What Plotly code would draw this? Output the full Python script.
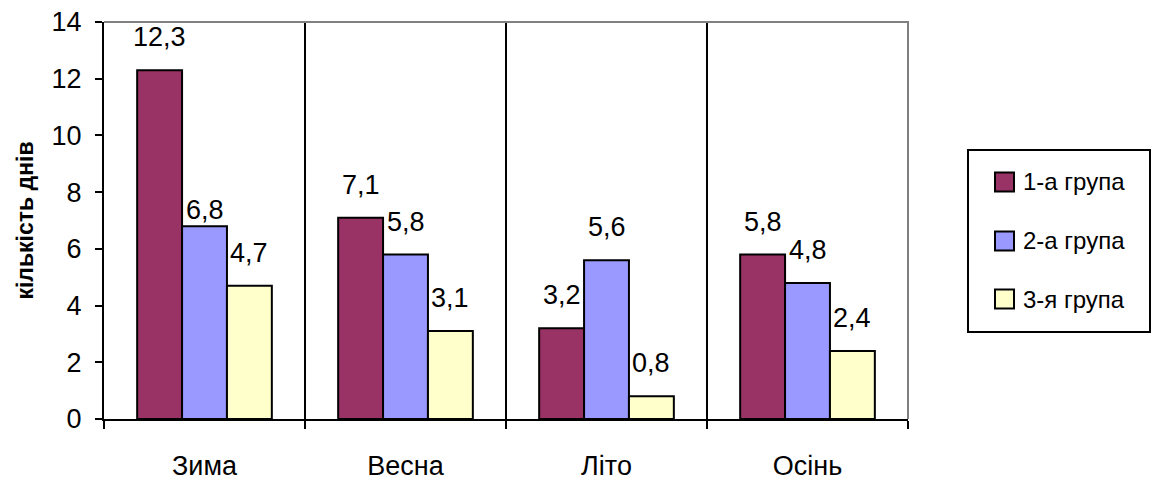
import plotly.graph_objects as go

# Seasons on the category axis
seasons = ["Зима", "Весна", "Літо", "Осінь"]

# Mean number of days per season for each group
group_names = ["1-а група", "2-а група", "3-я група"]
group1 = [12.3, 7.1, 3.2, 5.8]
group2 = [6.8, 5.8, 5.6, 4.8]
group3 = [4.7, 3.1, 0.8, 2.4]

y_ticks = [0, 2, 4, 6, 8, 10, 12, 14]

series = [group1, group2, group3]
colors = ["#993366", "#9999FF", "#FFFFCC"]

FONT = "Liberation Sans Narrow, Arial Narrow, Liberation Sans, Arial, sans-serif"

W, H = 1152, 481
L, R, T, B = 104, 244, 22, 62
plot_w = W - L - R
plot_h = H - T - B
BARGAP = 0.33


def fmt(v):
    return f"{v:.1f}".replace(".", ",")


def paper_x(px):
    return (px - L) / plot_w


def paper_y(py):
    return (H - B - py) / plot_h


fig = go.Figure()
for name, vals, col in zip(group_names, series, colors):
    fig.add_trace(go.Bar(
        x=seasons, y=vals, name=name,
        marker=dict(color=col, line=dict(color="black", width=2)),
        showlegend=False,
    ))

# value labels above each bar
bar_px = plot_w / len(seasons) * (1 - BARGAP) / len(series)
label_lift = {(1, 0): -17}  # the 6,8 label sits close to its bar
annotations = []
for i, vals in enumerate(series):
    for j, v in enumerate(vals):
        annotations.append(dict(
            x=seasons[j], y=v, xref="x", yref="y",
            text=fmt(v), showarrow=False,
            xshift=(i - (len(series) - 1) / 2) * bar_px,
            yanchor="bottom", yshift=16 + label_lift.get((i, j), 0),
            font=dict(family=FONT, size=27, color="black"),
        ))

# legend drawn as boxes and text to the right of the plot
shapes = [
    # grey frame on top and right of the plot area
    dict(type="path", xref="paper", yref="paper",
         path="M 0,1 L 1,1 L 1,0", line=dict(color="#808080", width=2)),
    dict(type="rect", xref="paper", yref="paper",
         x0=paper_x(968), x1=paper_x(1150), y0=paper_y(332), y1=paper_y(150),
         line=dict(color="black", width=2), fillcolor="white"),
]
legend_rows = [182, 241, 299]
for name, col, cy in zip(group_names, colors, legend_rows):
    shapes.append(dict(
        type="rect", xref="paper", yref="paper",
        x0=paper_x(995), x1=paper_x(1014),
        y0=paper_y(cy + 9.5), y1=paper_y(cy - 9.5),
        line=dict(color="black", width=2), fillcolor=col,
    ))
    annotations.append(dict(
        x=paper_x(1021), y=paper_y(cy), xref="paper", yref="paper",
        text=name, showarrow=False, xanchor="left", yanchor="middle",
        font=dict(family=FONT, size=24, color="black"),
    ))

fig.update_layout(
    width=W, height=H,
    margin=dict(l=L, r=R, t=T, b=B, pad=0, autoexpand=False),
    paper_bgcolor="white", plot_bgcolor="white",
    barmode="group", bargap=BARGAP, bargroupgap=0,
    font=dict(family=FONT, color="black"),
    shapes=shapes, annotations=annotations,
)
fig.update_xaxes(
    type="category", tickson="boundaries", automargin=False,
    ticks="outside", ticklen=8, tickwidth=2, tickcolor="black",
    showline=True, linecolor="black", linewidth=2,
    showgrid=True, gridcolor="black", gridwidth=2,
    tickfont=dict(family=FONT, size=27, color="black"),
    ticklabelstandoff=22,
)
fig.update_yaxes(
    range=[0, 14], tickvals=y_ticks, ticktext=[str(t) for t in y_ticks],
    automargin=False,
    ticks="outside", ticklen=7, tickwidth=2, tickcolor="black",
    showline=True, linecolor="black", linewidth=2,
    showgrid=False, zeroline=False,
    tickfont=dict(family=FONT, size=27, color="black"),
    ticklabelstandoff=8,
    title=dict(text="<b>кількість днів</b>", standoff=12,
               font=dict(family=FONT, size=23, color="black")),
)

fig.write_html("out.html")
